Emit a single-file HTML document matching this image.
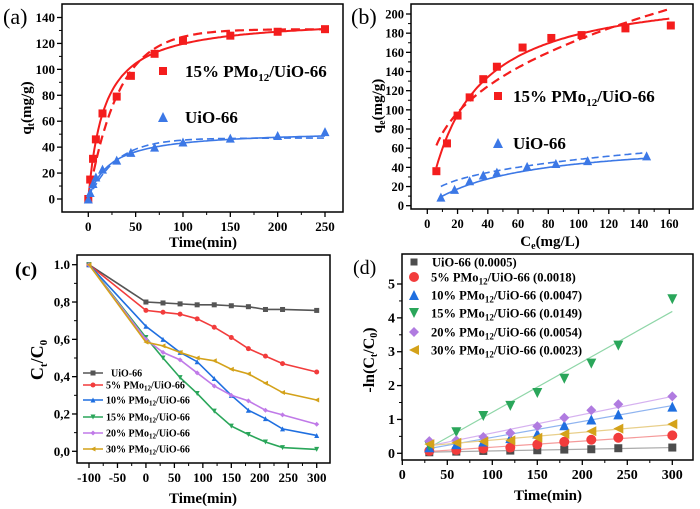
<!DOCTYPE html>
<html><head><meta charset="utf-8"><style>
html,body{margin:0;padding:0;background:#fff;}
svg{display:block;font-family:"Liberation Serif",serif;font-weight:bold;}
</style></head><body>
<svg id="chart" width="700" height="509" viewBox="0 0 700 509" xmlns="http://www.w3.org/2000/svg"></svg>
<script>
// ---- Panel (a) data ----
const aTime = [0,2,5,8,15,30,45,70,100,150,200,250];
const aRed = [0,15,31,46,66,79,95,112,122,126,129,131];
const aBlue = [0,5,12,17,23,30,36,40,44,47,49,52];
const aRedPSO = [140,0.059];   // qe, k*qe
const aRedPFO = [131,0.031];   // qe, k
const aBluePSO = [53,0.044];
const aBluePFO = [47,0.034];
const aXTicks = [0,50,100,150,200,250];
const aYTicks = [0,20,40,60,80,100,120,140];
// ---- Panel (b) data ----
const bRedC = [6,13,20,28,37,46,63,82,102,131,161];
const bRedQ = [36,65,94,113,132,145,165,175,178,185,188];
const bBlueC = [9,18,28,37,46,66,85,106,145];
const bBlueQ = [9,17,26,32,35,41,44,47,52];
const bRedLang = [230,0.035];
const bRedFreund = [33,0.36];
const bBlueLang = [70,0.0166];
const bBlueFreund = [9,0.365];
const bXTicks = [0,20,40,60,80,100,120,140,160];
const bYTicks = [0,20,40,60,80,100,120,140,160,180,200];
// ---- Panel (c) data ----
const cTime = [-100,0,30,60,90,120,150,180,210,240,300];
const cUiO = [1,.80,.795,.79,.785,.785,.78,.775,.76,.76,.755];
const c5 = [1,.755,.745,.735,.71,.665,.61,.55,.51,.47,.425];
const c10 = [1,.67,.60,.53,.48,.39,.30,.22,.175,.12,.085];
const c15 = [1,.61,.50,.395,.31,.215,.135,.09,.05,.02,.01];
const c20 = [1,.60,.53,.49,.42,.35,.30,.27,.22,.195,.145];
const c30 = [1,.585,.565,.53,.50,.485,.44,.415,.365,.315,.275];
const cXTicks = [-100,-50,0,50,100,150,200,250,300];
const cYTicks = [0,0.2,0.4,0.6,0.8,1.0];
const cYLabels = ["0,0","0,2","0,4","0,6","0,8","1.0"];
// ---- Panel (d) data ----
const dTime = [30,60,90,120,150,180,210,240,300];
const dUiO = [.03,.05,.07,.08,.09,.11,.12,.15,.17];
const d5 = [.07,.1,.14,.17,.26,.34,.40,.46,.53];
const d10 = [.18,.27,.35,.45,.58,.83,1.0,1.15,1.38];
const d15 = [.22,.62,1.1,1.4,1.78,2.2,2.65,3.18,4.55];
const d20 = [.36,.38,.48,.6,.8,1.05,1.27,1.45,1.68];
const d30 = [.27,.31,.35,.38,.46,.57,.65,.73,.86];
const dSlopes = [0.0005,0.0018,0.0047,0.0149,0.0054,0.0023];
const dIntercepts = [0.02,0.0,0.0,-0.28,0.06,0.16];
const dXTicks = [0,50,100,150,200,250,300];
const dYTicks = [0,1,2,3,4,5];

const NS="http://www.w3.org/2000/svg";
const svg=document.getElementById('chart');
function mk(tag,attrs,parent){const e=document.createElementNS(NS,tag);for(const k in attrs)e.setAttribute(k,attrs[k]);(parent||svg).appendChild(e);return e;}
function lin(v0,p0,v1,p1){return v=>p0+(v-v0)*(p1-p0)/(v1-v0);}

function axes(g,box,xs,ys,xt,yt,xl,yl,fs){
  const r=mk('rect',{x:box.l,y:box.t,width:box.r-box.l,height:box.b-box.t,fill:'none',stroke:'#000','stroke-width':1.5},g);
  
  
  xt.forEach((v,i)=>{
    const x=xs(v);
    const t=mk('line',{x1:x,x2:x,y1:box.b,y2:box.b+5,stroke:'#000','stroke-width':1.3},g);
    
    
    if(i<xt.length-1){const xm=xs((v+xt[i+1])/2);
      const m=mk('line',{x1:xm,x2:xm,y1:box.b,y2:box.b+3,stroke:'#000','stroke-width':1},g);
      
      }
    const tx=mk('text',{x:x,y:box.b+19,'text-anchor':'middle','font-size':fs},g);
    tx.textContent=xl?xl[i]:v;
    
    
  });
  yt.forEach((v,i)=>{
    const y=ys(v);
    const t=mk('line',{x1:box.l-5,x2:box.l,y1:y,y2:y,stroke:'#000','stroke-width':1.3},g);
    
    
    if(i<yt.length-1){const ym=ys((v+yt[i+1])/2);
      const m=mk('line',{x1:box.l-3,x2:box.l,y1:ym,y2:ym,stroke:'#000','stroke-width':1},g);
      
      }
    const tx=mk('text',{x:box.l-7,y:y+4.5,'text-anchor':'end','font-size':fs},g);
    tx.textContent=yl?yl[i]:v;
    
    
  });
}
function marker(g,type,x,y,s,col){
  let e;
  if(type==='sq') e=mk('rect',{x:x-s/2,y:y-s/2,width:s,height:s,fill:col},g);
  else if(type==='ci') e=mk('circle',{cx:x,cy:y,r:s/2,fill:col},g);
  else{
    let p;
    if(type==='up') p=[[x,y-s/2],[x+s/2,y+s/2],[x-s/2,y+s/2]];
    else if(type==='dn') p=[[x-s/2,y-s/2],[x+s/2,y-s/2],[x,y+s/2]];
    else if(type==='di') p=[[x,y-s/2],[x+s/2,y],[x,y+s/2],[x-s/2,y]];
    else p=[[x-s/2,y],[x+s/2,y-s/2],[x+s/2,y+s/2]];
    e=mk('polygon',{points:p.map(q=>q.join(',')).join(' '),fill:col},g);
  }
  return e;
}
function curve(g,fn,x0,x1,xs,ys,col,dash,w){
  const pts=[];for(let i=0;i<=120;i++){const v=x0+(x1-x0)*i/120;pts.push(xs(v).toFixed(1)+','+ys(fn(v)).toFixed(1));}
  return mk('polyline',{points:pts.join(' '),fill:'none',stroke:col,'stroke-width':w||2,'stroke-dasharray':dash||'none'},g);
}
function label(g,x,y,txt,fs,extra){const t=mk('text',Object.assign({x:x,y:y,'font-size':fs},extra||{}),g);t.innerHTML=txt;return t;}

const RED='#f41d1d',BLUE='#3c78e6';
// ===== Panel A =====
{
const g=mk('g',{});
const box={l:62,t:4,r:343,b:212};
const xs=lin(0,88.3,250,325), ys=lin(0,199,140,17.5);
axes(g,box,xs,ys,aXTicks,aYTicks,null,null,13);
let c;
c=curve(g,t=>aRedPSO[0]*aRedPSO[1]*t/(1+aRedPSO[1]*t),0,250,xs,ys,RED,null,2);
c=curve(g,t=>aRedPFO[0]*(1-Math.exp(-aRedPFO[1]*t)),0,250,xs,ys,RED,'9,5',2.2);
c=curve(g,t=>aBluePSO[0]*aBluePSO[1]*t/(1+aBluePSO[1]*t),0,250,xs,ys,BLUE,null,1.6);
c=curve(g,t=>aBluePFO[0]*(1-Math.exp(-aBluePFO[1]*t)),0,250,xs,ys,BLUE,'7,4',1.6);
aTime.forEach((t,i)=>{const m=marker(g,'sq',xs(t),ys(aRed[i]),8,RED);});
aTime.forEach((t,i)=>{const m=marker(g,'up',xs(t),ys(aBlue[i]),9,BLUE);});
let m=marker(g,'sq',163,71,8,RED);
let t=label(g,185,77,'15% PMo<tspan font-size="11" dy="4">12</tspan><tspan dy="-4">/UiO-66</tspan>',17);
m=marker(g,'up',163,117,10,BLUE);
t=label(g,185,123,'UiO-66',17);
t=label(g,203,247,'Time(min)',15,{'text-anchor':'middle'});
t=label(g,0,0,'q<tspan font-size="10" dy="3">t</tspan><tspan dy="-3">(mg/g)</tspan>',15,{'text-anchor':'middle',transform:'translate(31,108) rotate(-90)'});
t=label(g,3,24,'(a)',22,{'font-weight':'normal'});
}
// ===== Panel B =====
{
const g=mk('g',{});
const box={l:411,t:4,r:693,b:209};
const xs=lin(0,427.3,160,669.3), ys=lin(0,205.7,200,14);
axes(g,box,xs,ys,bXTicks,bYTicks,null,null,12.5);
let c;
c=curve(g,C=>bRedLang[0]*bRedLang[1]*C/(1+bRedLang[1]*C),6,160,xs,ys,RED,null,2);
c=curve(g,C=>bRedFreund[0]*Math.pow(C,bRedFreund[1]),6,160,xs,ys,RED,'9,5',2.2);
c=curve(g,C=>bBlueLang[0]*bBlueLang[1]*C/(1+bBlueLang[1]*C),9,145,xs,ys,BLUE,null,1.6);
c=curve(g,C=>bBlueFreund[0]*Math.pow(C,bBlueFreund[1]),9,145,xs,ys,BLUE,'7,4',1.6);
bRedC.forEach((v,i)=>{const m=marker(g,'sq',xs(v),ys(bRedQ[i]),8,RED);});
bBlueC.forEach((v,i)=>{const m=marker(g,'up',xs(v),ys(bBlueQ[i]),9,BLUE);});
let m=marker(g,'sq',498,96,8,RED);
let t=label(g,513,102,'15% PMo<tspan font-size="11" dy="4">12</tspan><tspan dy="-4">/UiO-66</tspan>',17);
m=marker(g,'up',498,143,10,BLUE);
t=label(g,513,149,'UiO-66',17);
t=label(g,550,246,'C<tspan font-size="10" dy="3">e</tspan><tspan dy="-3">(mg/L)</tspan>',15,{'text-anchor':'middle'});
t=label(g,0,0,'q<tspan font-size="10" dy="3">e</tspan><tspan dy="-3">(mg/g)</tspan>',15,{'text-anchor':'middle',transform:'translate(382,106) rotate(-90)'});
t=label(g,351,24,'(b)',22,{'font-weight':'normal'});
}
// ===== Panel C =====
const cSeries=[cUiO,c5,c10,c15,c20,c30];
const cNames=['UiO-66','5% PMo<tspan font-size="7" dy="2">12</tspan><tspan dy="-2">/UiO-66</tspan>','10% PMo<tspan font-size="7" dy="2">12</tspan><tspan dy="-2">/UiO-66</tspan>','15% PMo<tspan font-size="7" dy="2">12</tspan><tspan dy="-2">/UiO-66</tspan>','20% PMo<tspan font-size="7" dy="2">12</tspan><tspan dy="-2">/UiO-66</tspan>','30% PMo<tspan font-size="7" dy="2">12</tspan><tspan dy="-2">/UiO-66</tspan>'];
const cCols=['#555555','#f23c3c','#1f6fe0','#2aa65a','#c07ae8','#d4a21a'];
const cMk=['sq','ci','up','dn','di','lt'];
{
const g=mk('g',{});
const box={l:77,t:255,r:330,b:463};
const xs=lin(-100,89,300,316.7), ys=lin(0,451.3,1,264.7);
axes(g,box,xs,ys,cXTicks,cYTicks,null,cYLabels,13);
cSeries.forEach((s,k)=>{
  const l=mk('polyline',{points:cTime.map((t,i)=>xs(t)+','+ys(s[i])).join(' '),fill:'none',stroke:cCols[k],'stroke-width':1.6},g);
  
  
  cTime.forEach((t,i)=>{const m=marker(g,cMk[k],xs(t),ys(s[i]),5,cCols[k]);});
});
const ly=[373,385,400,417,433,449];
cNames.forEach((n,k)=>{
  const l=mk('line',{x1:83,x2:103,y1:ly[k],y2:ly[k],stroke:cCols[k],'stroke-width':1.6},g);
  
  
  const m=marker(g,cMk[k],93,ly[k],5,cCols[k]);
  const t=label(g,k===0?111:106,ly[k]+3.5,n,10);
});
let t=label(g,203,503,'Time(min)',15,{'text-anchor':'middle'});
t=label(g,0,0,'C<tspan font-size="11" dy="4">t</tspan><tspan dy="-4">/C</tspan><tspan font-size="11" dy="4">0</tspan>',18,{'text-anchor':'middle',transform:'translate(43,360) rotate(-90)'});
t=label(g,15,276,'(c)',20);
}
// ===== Panel D =====
{
const dSeries=[dUiO,d5,d10,d15,d20,d30];
const dCols=['#4d4d4d','#f23c3c','#1f6fe0','#2aa65a','#b07be0','#d4a21a'];
const dLine=['#aaaaaa','#f59a9a','#8fb4f0','#8fd6a8','#d6b2f0','#e8cf8a'];
const dNames=['UiO-66 (0.0005)','5% PMo<tspan font-size="9" dy="3">12</tspan><tspan dy="-3">/UiO-66 (0.0018)</tspan>','10% PMo<tspan font-size="9" dy="3">12</tspan><tspan dy="-3">/UiO-66 (0.0047)</tspan>','15% PMo<tspan font-size="9" dy="3">12</tspan><tspan dy="-3">/UiO-66 (0.0149)</tspan>','20% PMo<tspan font-size="9" dy="3">12</tspan><tspan dy="-3">/UiO-66 (0.0054)</tspan>','30% PMo<tspan font-size="9" dy="3">12</tspan><tspan dy="-3">/UiO-66 (0.0023)</tspan>'];
const g=mk('g',{});
const box={l:402,t:254,r:693,b:460};
const xs=lin(0,402.3,300,672.3), ys=lin(0,453.3,5,284);
axes(g,box,xs,ys,dXTicks,dYTicks,null,null,14);
dSeries.forEach((s,k)=>{
  const l=mk('line',{x1:xs(30),x2:xs(300),y1:ys(dSlopes[k]*30+dIntercepts[k]),y2:ys(dSlopes[k]*300+dIntercepts[k]),stroke:dLine[k],'stroke-width':1.2},g);
  
  
});
dSeries.forEach((s,k)=>{
  dTime.forEach((t,i)=>{const m=marker(g,cMk[k],xs(t),ys(s[i]),k===0?8:10,dCols[k]);});
});
const ly=[262,277,295,313,332,350];
dNames.forEach((n,k)=>{
  const m=marker(g,cMk[k],414,ly[k],k===0?7:10,dCols[k]);
  const t=label(g,k===0?432:431,ly[k]+4.5,n,12.5);
});
let t=label(g,548,500,'Time(min)',15,{'text-anchor':'middle'});
t=label(g,0,0,'-ln(C<tspan font-size="10" dy="3">t</tspan><tspan dy="-3">/C</tspan><tspan font-size="10" dy="3">0</tspan><tspan dy="-3">)</tspan>',16,{'text-anchor':'middle',transform:'translate(374,360) rotate(-90)'});
t=label(g,353,274,'(d)',20,{'font-weight':'normal'});
}
</script>
</body></html>
